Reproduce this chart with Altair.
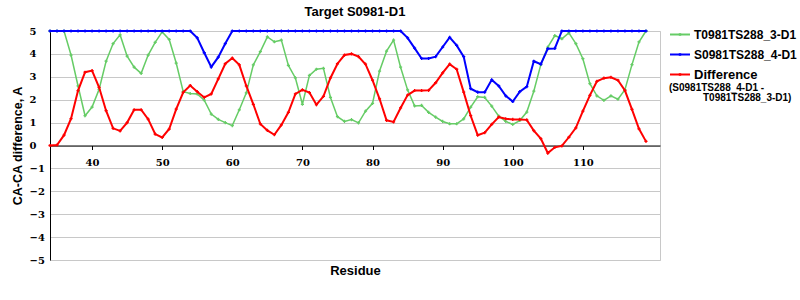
import altair as alt
import pandas as pd

residues = list(range(34, 120))

model_3 = [5, 5, 5, 3.95, 2.6, 1.3, 1.68, 2.45, 3.68, 4.45,
           4.83, 3.9, 3.42, 3.15, 3.95, 4.5, 4.96, 4.63, 3.6, 2.35,
           2.27, 2.25, 1.98, 1.37, 1.14, 1.0, 0.87, 1.56, 2.3, 3.52,
           4.1, 4.74, 4.53, 4.6, 3.5, 2.95, 1.8, 3.06, 3.33, 3.37,
           2.1, 1.26, 1.05, 1.13, 0.99, 1.5, 1.84, 3.25, 4.12, 4.6,
           3.42, 2.43, 1.73, 1.75, 1.45, 1.24, 1.05, 0.95, 0.95, 1.16,
           1.68, 2.13, 2.1, 1.72, 1.28, 1.05, 0.92, 1.09, 1.46, 2.37,
           3.53, 4.3, 4.8, 4.66, 4.92, 4.45, 3.79, 2.7, 2.17, 1.97,
           2.17, 2.02, 2.44, 3.53, 4.52, 5]

model_4 = [5, 5, 5, 5, 5, 5, 5, 5, 5, 5,
           5, 5, 5, 5, 5, 5, 5, 5, 5, 5,
           5, 4.7, 4.05, 3.43, 3.86, 4.45, 5, 5, 5, 5,
           5, 5, 5, 5, 5, 5, 5, 5, 5, 5,
           5, 5, 5, 5, 5, 5, 5, 5, 5, 5,
           5, 4.7, 4.25, 3.8, 3.8, 3.88, 4.3, 4.72, 4.37, 3.88,
           2.48, 2.33, 2.33, 2.87, 2.6, 2.17, 1.92, 2.35, 2.57, 3.68,
           3.55, 4.23, 4.24, 5, 5, 5, 5, 5, 5, 5,
           5, 5, 5, 5, 5, 5]

difference = [0, 0.02, 0.45, 1.17, 2.4, 3.2, 3.27, 2.54, 1.52, 0.75,
              0.64, 1.0, 1.56, 1.56, 1.15, 0.5, 0.35, 0.72, 1.59, 2.32,
              2.62, 2.35, 2.1, 2.25, 2.91, 3.57, 3.82, 3.52, 2.6, 1.8,
              0.94, 0.66, 0.47, 0.9, 1.45, 2.25, 2.43, 2.31, 1.78, 2.15,
              2.95, 3.57, 3.95, 4.0, 3.88, 3.55, 2.85, 2.04, 1.1, 1.03,
              1.64, 2.2, 2.4, 2.4, 2.41, 2.74, 3.17, 3.55, 3.33, 2.33,
              1.3, 0.45, 0.56, 0.92, 1.24, 1.17, 1.14, 1.14, 1.12, 0.65,
              0.3, -0.33, -0.08, -0.02, 0.36, 0.77, 1.5, 2.19, 2.8, 2.94,
              2.98, 2.85, 2.4, 1.58, 0.73, 0.18]

series_names = ["T0981TS288_3-D1", "S0981TS288_4-D1", "Difference"]
series_colors = ["#66CC66", "#0000FF", "#FF0000"]
series_widths = [1.5, 2, 2]
series_values = [model_3, model_4, difference]
x_ticks = [40, 50, 60, 70, 80, 90, 100, 110]
y_ticks = [-5, -4, -3, -2, -1, 0, 1, 2, 3, 4, 5]

SANS = "Liberation Sans"
SERIF = "DejaVu Serif"

x_enc = alt.X(
    "residue:Q",
    scale=alt.Scale(domain=[34, 121], nice=False, zero=False),
    axis=alt.Axis(
        values=x_ticks, grid=False, offset=-114.5,
        domainColor="black", domainWidth=1,
        tickColor="black", tickSize=4,
        labelFont=SERIF, labelFontWeight="bold", labelFontSize=10,
        labelColor="black", labelPadding=8,
        title="Residue", titleFont=SANS, titleFontWeight="bold",
        titleFontSize=13, titleColor="black", titleY=119, titleBaseline="top",
    ),
)
y_enc = alt.Y(
    "value:Q",
    scale=alt.Scale(domain=[-5, 5], nice=False, zero=False),
    axis=alt.Axis(
        values=y_ticks, grid=True, gridColor="#C8C8C8", gridWidth=1,
        domainColor="black", domainWidth=1,
        ticks=False, tickSize=0,
        labelAlign="left", labelPadding=21, labelBaseline="middle",
        labelFont=SERIF, labelFontWeight="bold", labelFontSize=10,
        labelColor="black",
        title="CA-CA difference, A", titleFont=SANS, titleFontWeight="bold",
        titleFontSize=12.5, titleColor="black",
        titleX=-33, titleY=114.5, titleAngle=270, titleAlign="center",
        titleBaseline="middle",
    ),
)

layers = []
for name, color, width, vals in zip(series_names, series_colors, series_widths, series_values):
    df = pd.DataFrame({"residue": residues, "value": vals})
    line = alt.Chart(df).mark_line(color=color, strokeWidth=width).encode(x=x_enc, y=y_enc)
    pts = alt.Chart(df).mark_point(shape="cross", filled=True, size=10, color=color, opacity=1).encode(
        x=x_enc, y=y_enc)
    layers += [line, pts]

# custom legend
dummy = pd.DataFrame({"k": [0]})
legend_rows = [3.5, 23.5, 43.5]
for name, color, ly in zip(series_names, series_colors, legend_rows):
    layers.append(alt.Chart(dummy).mark_rule(color=color, strokeWidth=2).encode(
        x=alt.value(620), x2=alt.value(640), y=alt.value(ly)))
    layers.append(alt.Chart(dummy).mark_point(shape="cross", filled=True, size=10, color=color, opacity=1).encode(
        x=alt.value(630), y=alt.value(ly)))
    layers.append(alt.Chart(dummy).mark_text(
        text=name, align="left", baseline="middle", font=SANS, fontWeight="bold",
        fontSize=13 if name == "Difference" else 12, color="black").encode(
        x=alt.value(644), y=alt.value(ly)))
layers.append(alt.Chart(dummy).mark_text(
    text="(S0981TS288_4-D1 -", align="left", baseline="middle", font=SANS, fontWeight="bold",
    fontSize=10, color="black").encode(x=alt.value(619), y=alt.value(57)))
layers.append(alt.Chart(dummy).mark_text(
    text="T0981TS288_3-D1)", align="left", baseline="middle", font=SANS, fontWeight="bold",
    fontSize=10, color="black").encode(x=alt.value(653), y=alt.value(66.5)))

chart = alt.layer(*layers).properties(
    width=610, height=229,
    title=alt.TitleParams("Target S0981-D1", font=SANS, fontWeight="bold", fontSize=13,
                          anchor="middle", offset=7, color="black"),
    autosize=alt.AutoSizeParams(type="none"),
    padding={"left": 50, "top": 31, "right": 140, "bottom": 40},
    background="white",
).configure_view(stroke="#C8C8C8", strokeWidth=1)

chart.save("out.html", embed_options={"renderer": "svg", "actions": False})
